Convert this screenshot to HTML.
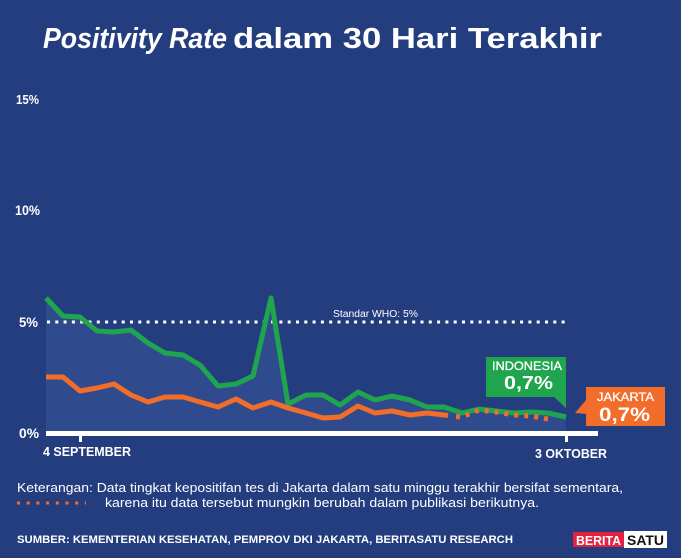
<!DOCTYPE html>
<html><head><meta charset="utf-8"><style>
html,body{margin:0;padding:0;background:#243d7f;}
svg{display:block;}
text{font-family:"Liberation Sans",sans-serif;}
</style></head><body>
<svg width="681" height="558" viewBox="0 0 681 558" xmlns="http://www.w3.org/2000/svg">
<rect x="0" y="0" width="681" height="558" fill="#243d7f"/>
<!-- title -->
<text x="43" y="48" font-size="29" font-weight="bold" font-style="italic" fill="#fff" textLength="184" lengthAdjust="spacingAndGlyphs">Positivity Rate</text>
<text x="233" y="48" font-size="29" font-weight="bold" fill="#fff" textLength="369" lengthAdjust="spacingAndGlyphs">dalam 30 Hari Terakhir</text>

<!-- faint grid -->
<line x1="46" y1="211" x2="600" y2="211" stroke="#ffffff" stroke-opacity="0.02" stroke-width="1"/>

<!-- y labels -->
<text x="16" y="104" font-size="12.5" font-weight="bold" fill="#fff" textLength="23" lengthAdjust="spacingAndGlyphs">15%</text>
<text x="15" y="215" font-size="13.5" font-weight="bold" fill="#fff" textLength="25" lengthAdjust="spacingAndGlyphs">10%</text>
<text x="19" y="327" font-size="14" font-weight="bold" fill="#fff" textLength="19" lengthAdjust="spacingAndGlyphs">5%</text>
<text x="19" y="438" font-size="14" font-weight="bold" fill="#fff" textLength="20" lengthAdjust="spacingAndGlyphs">0%</text>

<!-- area under green -->
<polygon fill="#2f4b8e" points="46,298 63,316 80,317 97,331 114,332 131,330 148,343 165,353 183,355 200,365 218,386 236,384 253,376 271,298 288,404 306,395 323,395 340,405 358,392 375,400 392,396 410,400 427,407 444,407 462,413 479,409 496,411 514,413 531,412 548,413 566,417 566,431 46,431"/>

<!-- WHO line -->
<line x1="47" y1="322" x2="566" y2="322" stroke="#fff" stroke-width="3" stroke-dasharray="3 5.3"/>
<text x="333" y="317" font-size="10" fill="#fff" textLength="85" lengthAdjust="spacingAndGlyphs">Standar WHO: 5%</text>

<!-- green line -->
<polyline fill="none" stroke="#1fa54d" stroke-width="5" stroke-linejoin="round" stroke-linecap="butt" points="46,298 63,316 80,317 97,331 114,332 131,330 148,343 165,353 183,355 200,365 218,386 236,384 253,376 271,298 288,404 306,395 323,395 340,405 358,392 375,400 392,396 410,400 427,407 444,407 462,413 479,409 496,411 514,413 531,412 548,413 566,417"/>

<!-- orange line -->
<polyline fill="none" stroke="#f26c2a" stroke-width="5" stroke-linejoin="round" points="46,377 63,377 80,391 97,388 114,384 131,395 148,402 165,397 183,397 200,402 218,407 236,399 253,408 271,402 288,408 306,413 323,418 340,417 358,406 375,413 392,411 410,415 427,413 444,415 448,415.5"/>
<polyline fill="none" stroke="#f26c2a" stroke-width="5" stroke-dasharray="4 6" stroke-dashoffset="-1" points="455,416.5 462,417 479,410 496,412 514,415 531,416 548,419"/>

<!-- baseline -->
<rect x="46" y="431" width="552" height="5" fill="#fff"/>
<rect x="79" y="435" width="3" height="7" fill="#fff"/>
<rect x="565" y="435" width="3" height="7" fill="#fff"/>
<text x="43" y="456" font-size="12.5" font-weight="bold" fill="#fff" textLength="88" lengthAdjust="spacingAndGlyphs">4 SEPTEMBER</text>
<text x="535" y="458" font-size="12.5" font-weight="bold" fill="#fff" textLength="72" lengthAdjust="spacingAndGlyphs">3 OKTOBER</text>

<!-- Indonesia label -->
<rect x="486" y="357" width="80" height="40" fill="#1fa54d"/>
<polygon points="553,396 566,396 566,408" fill="#1fa54d"/>
<text x="492" y="370" font-size="11.5" fill="#fff" stroke="#fff" stroke-width="0.3" textLength="70" lengthAdjust="spacingAndGlyphs">INDONESIA</text>
<text x="504" y="389" font-size="18.5" font-weight="bold" fill="#fff" textLength="49" lengthAdjust="spacingAndGlyphs">0,7%</text>

<!-- Jakarta label -->
<rect x="586" y="387" width="79" height="39" fill="#f26c2a"/>
<polygon points="575,413 587,399 587,414" fill="#f26c2a"/>
<text x="597" y="401" font-size="11.5" fill="#fff" stroke="#fff" stroke-width="0.3" textLength="57" lengthAdjust="spacingAndGlyphs">JAKARTA</text>
<text x="599" y="421" font-size="19" font-weight="bold" fill="#fff" textLength="51" lengthAdjust="spacingAndGlyphs">0,7%</text>

<!-- footnote -->
<text x="17" y="492" font-size="12.5" fill="#fff" textLength="606" lengthAdjust="spacingAndGlyphs">Keterangan: Data tingkat kepositifan tes di Jakarta dalam satu minggu terakhir bersifat sementara,</text>
<line x1="17" y1="503" x2="86" y2="503" stroke="#f26c2a" stroke-width="3" stroke-dasharray="3 6.7"/>
<text x="105" y="507" font-size="12.5" fill="#fff" textLength="434" lengthAdjust="spacingAndGlyphs">karena itu data tersebut mungkin berubah dalam publikasi berikutnya.</text>

<!-- source -->
<text x="17" y="543" font-size="11" font-weight="bold" fill="#fff" textLength="496" lengthAdjust="spacingAndGlyphs">SUMBER: KEMENTERIAN KESEHATAN, PEMPROV DKI JAKARTA, BERITASATU RESEARCH</text>

<!-- logo -->
<rect x="573" y="532" width="51" height="15" fill="#e4223f"/>
<rect x="624" y="531" width="43" height="17" fill="#fff"/>
<text x="576" y="545" font-size="13" font-weight="bold" fill="#fff" textLength="45" lengthAdjust="spacingAndGlyphs">BERITA</text>
<text x="627" y="545" font-size="13.5" font-weight="bold" fill="#111" textLength="37" lengthAdjust="spacingAndGlyphs">SATU</text>
</svg>
</body></html>
